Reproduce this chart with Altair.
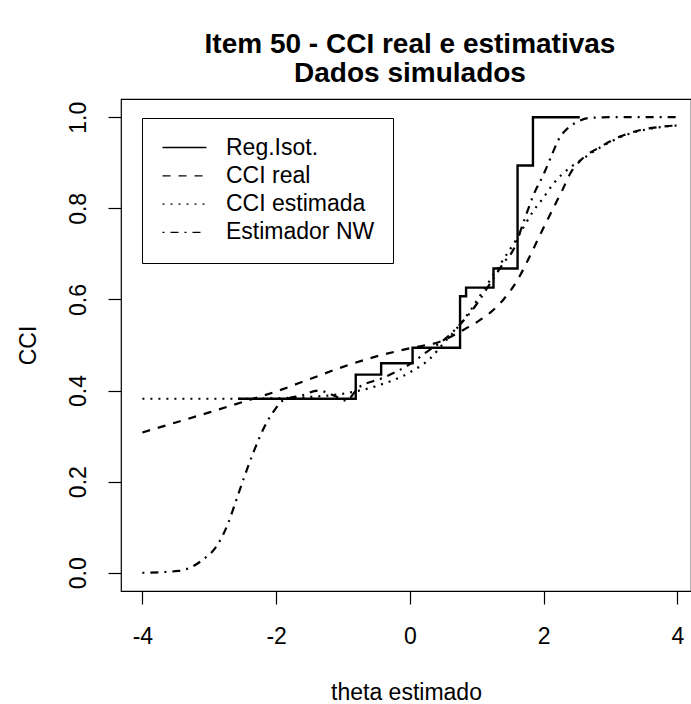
import altair as alt
import pandas as pd

# ---- data ----
series_names = ["Reg.Isot.", "CCI real", "CCI estimada", "Estimador NW"]

iso_x = [-2.57, -0.81, -0.43, 0.04, 0.75, 0.84, 1.25, 1.61, 1.84, 2.54]
iso_y = [0.382, 0.435, 0.460, 0.494, 0.607, 0.626, 0.668, 0.894, 1.000, 1.000]

real_x = [-4.0, -3.5, -3.0, -2.5, -2.0, -1.5, -1.0, -0.5, 0.0, 0.5, 0.76, 1.0, 1.21, 1.4,
          1.61, 1.81, 2.0, 2.15, 2.28, 2.40, 2.55, 2.85, 3.15, 3.45, 3.7, 4.0]
real_y = [0.308, 0.330, 0.352, 0.375, 0.398, 0.425, 0.452, 0.475, 0.493, 0.510, 0.530, 0.550,
          0.572, 0.600, 0.643, 0.700, 0.758, 0.802, 0.840, 0.877, 0.905, 0.935, 0.958, 0.972,
          0.978, 0.982]

est_x = [-4.0, -3.0, -2.5, -2.0, -1.5, -1.0, -0.5, 0.0, 0.3, 0.51, 0.72, 0.9, 1.1, 1.31,
         1.61, 1.85, 2.0, 2.15, 2.4, 2.55, 2.85, 3.25, 3.6, 4.0]
est_y = [0.382, 0.382, 0.382, 0.383, 0.386, 0.393, 0.410, 0.440, 0.470, 0.505, 0.540, 0.575,
         0.620, 0.668, 0.736, 0.795, 0.824, 0.855, 0.890, 0.905, 0.934, 0.962, 0.975, 0.982]

nw_x = [-4.0, -3.46, -3.12, -2.87, -2.72, -2.6, -2.48, -2.33, -2.18, -2.03, -1.9, -1.6, -1.37,
        -1.15, -0.95, -0.78, -0.4, 0.0, 0.3, 0.5, 0.75, 1.0, 1.2, 1.4, 1.55, 1.7, 1.85, 2.0,
        2.13, 2.22, 2.36, 2.51, 2.66, 3.0, 4.0]
nw_y = [0.000, 0.004, 0.026, 0.063, 0.108, 0.158, 0.209, 0.268, 0.319, 0.356, 0.378, 0.390,
        0.400, 0.390, 0.378, 0.405, 0.428, 0.458, 0.490, 0.510, 0.545, 0.590, 0.635, 0.680,
        0.710, 0.770, 0.830, 0.875, 0.920, 0.950, 0.976, 0.990, 0.998, 1.000, 1.000]

x_ticks = [-4, -2, 0, 2, 4]
y_ticks = [0.0, 0.2, 0.4, 0.6, 0.8, 1.0]

rows = []
for name, xs, ys in [("Reg.Isot.", iso_x, iso_y), ("CCI real", real_x, real_y),
                     ("CCI estimada", est_x, est_y), ("Estimador NW", nw_x, nw_y)]:
    for i, (a, b) in enumerate(zip(xs, ys)):
        rows.append({"serie": name, "theta": a, "cci": b, "ord": i})
df = pd.DataFrame(rows)

FONT = "Liberation Sans"
W, H = 570, 492
PX_PER_UNIT = 66.875
x_dom = [-4.32, -4.32 + W / PX_PER_UNIT]

dash_scale = alt.Scale(domain=series_names,
                       range=[[1, 0], [8, 8], [2, 6], [2, 6, 8, 6]])

x_enc = alt.X("theta:Q", scale=alt.Scale(domain=x_dom, nice=False, zero=False),
              axis=alt.Axis(values=x_ticks, title="theta estimado",
                            labelExpr="datum.value < 0 ? '-' + abs(datum.value) : '' + datum.value",
                            labelBaseline="alphabetic", labelPadding=39,
                            titleY=108, titleBaseline="alphabetic"))
y_enc = alt.Y("cci:Q", scale=alt.Scale(domain=[-0.04, 1.04], nice=False, zero=False),
              axis=alt.Axis(values=y_ticks, title="CCI", format=".1f",
                            labelAngle=270, labelAlign="center",
                            labelBaseline="alphabetic", labelPadding=23,
                            titleX=-86, titleBaseline="alphabetic"))

dash_enc = alt.StrokeDash("serie:N", scale=dash_scale, sort=series_names,
                          legend=alt.Legend(title=None, orient="none",
                                            legendX=21, legendY=19,
                                            symbolType="M-4,0H4", symbolSize=121,
                                            symbolStrokeWidth=1.3,
                                            symbolStrokeColor="black",
                                            symbolOffset=13,
                                            labelFontSize=23, labelFont=FONT,
                                            labelColor="black", labelOffset=30,
                                            rowPadding=4.3, padding=18,
                                            strokeColor="black", fillColor="white",
                                            cornerRadius=0))

smooth = alt.Chart(df).transform_filter(alt.datum.serie != "Reg.Isot.").mark_line(
    color="black", strokeWidth=2.2, interpolate="monotone"
).encode(x=x_enc, y=y_enc, strokeDash=dash_enc, order="ord:Q", detail="serie:N")

step = alt.Chart(df).transform_filter(alt.datum.serie == "Reg.Isot.").mark_line(
    color="black", strokeWidth=2.4, interpolate="step-after"
).encode(x=x_enc, y=y_enc, strokeDash=dash_enc, order="ord:Q")

chart = alt.layer(step, smooth).properties(
    width=W, height=H, background="white",
    title=alt.Title(text=["Item 50 - CCI real e estimativas", "Dados simulados"],
                    font=FONT, fontSize=28, fontWeight="bold", color="black",
                    anchor="middle", frame="group", offset=11, lineHeight=29, dx=4),
    autosize=alt.AutoSizeParams(type="none"),
    padding={"left": 121, "top": 99, "right": 0, "bottom": 113},
).configure_view(stroke="black", strokeWidth=1.2).configure_axis(
    grid=False, domain=False, ticks=True, tickSize=13, tickColor="black", tickWidth=1.2,
    labelFont=FONT, labelFontSize=23, labelColor="black",
    titleFont=FONT, titleFontSize=23, titleColor="black", titleFontWeight="normal",
)

chart.save("out.html", embed_options={"renderer": "svg", "actions": False})
